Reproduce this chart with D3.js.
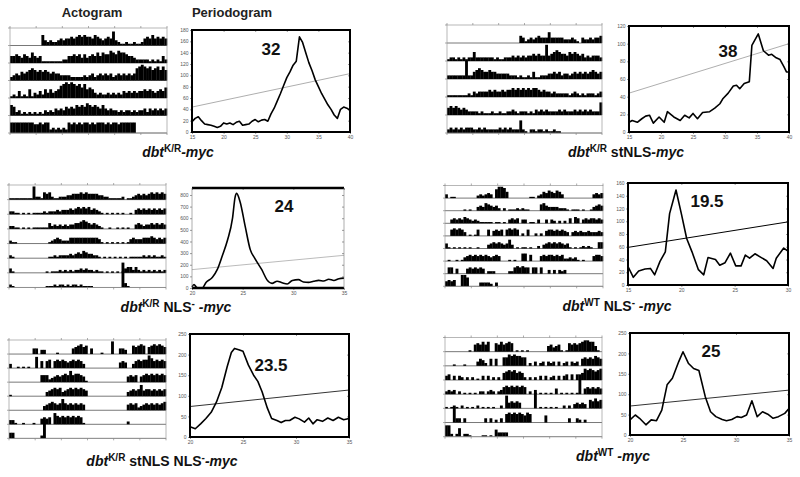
<!DOCTYPE html>
<html><head><meta charset="utf-8">
<script src="https://cdn.jsdelivr.net/npm/d3@7"></script>
<style>body{margin:0;background:#fff}svg{display:block}text{font-family:"Liberation Sans",Arial,sans-serif}</style>
</head><body>
<svg id="c" width="800" height="477"></svg>
<script>
// ---------- headers ----------
const headers = ["Actogram", "Periodogram"];

// ---------- actogram rows (activity level per bin, 0-9, letters = taller spikes) ----------
const acto1 = [
 "0000000000 0063232234 3445456565 5465434548 3211211211 2454645454",
 "4454354364 3411111111 2244545353 4546465576 5766544322 2221212142",
 "2343545676 5656545443 3332222232 3423434342 3434343478 9878678686",
 "1214121513 2425353457 8989878685 6532322323 2324343434 4545434546",
 "6523121212 1213232434 3545465657 6565464343 3232332323 3424343434",
 "6666666665 5656623232 3265656566 5656665656 6566666600 0000000000"];
const acto2 = [
 "0000000000 0000000000 0000000043 1232343336 3333322232 1032232334",
 "1221212122 5222222212 1122232323 2334343393 4565443545 4342323332",
 "2222222a22 4565445443 3333222121 1214112223 3434233234 3434345434",
 "1111111121 3233334343 3434454545 4545543433 2322222123 2121222123",
 "4545434322 2212111211 2112232122 2121323232 2223232223 2323232227",
 "2323232333 2232322222 3232322272 1022122121 1211000000 0000000000"];
const acto3 = [
 "1111111119 2215452112 2233444545 4444332211 1112011234 3434545454",
 "2211010101 1112122232 3334345454 5343210101 0101001034 3434343434",
 "2211010101 1111142323 2323344565 4343210010 0101010034 3233434343",
 "2110000000 0000012343 2224444444 4444310101 0101013433 3444543434",
 "2100000000 0000011212 2223234354 3322101010 1010101111 1212121121",
 "3100000000 0000101112 1212122323 2212110101 0101344242 1212121212",
 "2100000000 0000111212 2121221211 1100000000 000h310000 0000000000"];
const acto4 = [
 "3011000000 0023234307 9985000000 0011023546 5465300000 0000003434",
 "0000000101 0034365434 2020111212 1100005643 3332221011 1010013454",
 "0034343543 2321111101 1010343403 3011030030 3202020405 4034344343",
 "0056565301 0150005045 4505656502 0500202045 5454543034 3433433343",
 "4101010101 0010003454 5434730101 1010020345 4545434101 0121210055",
 "0100101345 4545454345 4000101006 6050004545 5454522323 1010004554",
 "0550400045 4545402220 0000225656 5505505003 0303230000 0000000000",
 "4545009970 0003333203 0000000000 0000000000 0000000000 0000000000"];
const acto5 = [
 "0000000004 4033000010 0000456756 0400010009 0044300656 7605676765",
 "3001010100 8050560565 6545656530 0000000000 0045400356 5669756565",
 "0000000000 0055523454 5658566541 0000000000 0000045450 4565656565",
 "1000000000 0000345656 3456565654 0000000000 0000034545 8455454545",
 "0000000000 0003456545 8545454540 0000000000 0000045452 3454545456",
 "3310010001 0045450865 6565656510 0000000000 0000020000 0000000000",
 "4400000000 002d000000 0000000000 0000000000 0000000000 0000000000"];
const acto6 = [
 "0000000001 0565757006 5756760101 0100000004 5345101656 5678877410",
 "0001000100 0035420505 0066878776 6020302303 2303023032 3056565765",
 "3403032020 2010303020 2056767565 2020203030 2303034040 4058787678",
 "2323020101 0102202320 2356565656 5020101010 1040101010 1e04545454",
 "1010102010 1020101010 0209454540 0000d01010 1010020203 4343065756",
 "000c330300 0000030302 0306767676 5760000050 0000000300 3202000000",
 "8820260221 0000110105 3333000000 0000000000 0000000000 0000000000"];

// ---------- periodogram series ----------
const periods1 = [15,15.5,16,16.5,17,17.5,18,18.5,19,19.5,20,20.5,21,21.5,22,22.5,23,23.5,24,24.5,25,25.5,26,26.5,27,27.5,28,28.5,29,29.5,30,30.5,31,31.5,32,32.5,33,33.5,34,34.5,35,35.5,36,36.5,37,37.5,38,38.5,39,39.5,40];
const power1   = [18,24,27,20,14,13,12,10,8,10,16,14,16,13,17,19,12,13,14,19,22,18,21,22,19,32,42,55,68,82,96,106,118,125,168,158,140,122,108,92,80,68,58,48,40,30,24,40,44,42,38];
const periods2 = [15,15.5,16.3,17,17.6,18.2,18.8,19.7,20.5,21,22,23,23.7,24.4,25,25.7,26.5,27.6,28.4,29.2,29.7,30.5,31.3,31.8,32.3,33,33.8,34.2,35.2,36,36.8,37.3,38,38.6,39.2,39.6,40];
const power2   = [11,13,11,15,18,19,10,17,11,23,17,13,19,16,21,15,22,23,27,32,38,44,52,53,49,55,57,98,111,92,87,88,84,82,74,68,68];
const periods3 = [20,20.2,20.4,20.6,21,21.4,22,22.5,23,23.5,24,24.25,24.4,24.75,25.25,25.75,26.2,26.9,27.4,27.9,28.4,28.9,29.4,29.9,30.5,31,31.5,32,32.5,33,33.5,34,34.5,35];
const power3   = [10,30,10,0,0,50,90,160,280,410,600,780,814,740,530,330,255,155,70,40,58,45,35,65,72,52,48,58,66,60,75,65,80,85];
const periods4 = [15,15.5,16,16.6,17.1,17.5,18,18.5,18.9,19.5,20,20.5,21,21.6,22.1,22.5,23.2,23.6,24.1,24.6,25.1,25.6,26,26.4,26.9,27.5,28,28.6,28.9,29.6,30];
const power4   = [29,12,22,25,26,16,37,52,112,149,112,73,52,24,16,43,40,31,35,50,30,30,47,42,49,43,38,26,42,58,53];
const periods5 = [20,20.5,21,21.5,22,22.5,23,23.5,23.9,24.2,24.6,25,25.5,26,26.4,26.8,27.3,27.7,28.2,28.6,29,29.4,29.9,30.3,30.8,31.2,31.6,32,32.5,33,33.5,34,34.5,35];
const power5   = [25,20,32,45,60,85,120,170,205,215,212,208,175,150,135,110,70,45,40,35,40,40,48,44,36,46,32,42,38,46,40,48,42,45];
const periods6 = [20,20.5,20.9,21.5,22,22.5,23,23.5,24,24.6,25,25.5,26,26.5,27.1,27.6,28.1,28.7,29.1,29.6,30.1,30.5,31,31.5,32,32.5,33,33.5,34,34.6,35];
const power6   = [37,49,41,25,37,35,61,123,139,180,204,176,163,158,94,57,45,38,35,38,45,43,49,84,45,57,51,41,45,53,65];

// significance (trend) line end values
const trend1 = [44,103], trend2 = [44,100], trend3 = [158,281], trend4 = [59,99], trend5 = [74,114], trend6 = [71,110];

// axis domains & ticks
const xDom1 = [15,40], yDom1 = [0,180], xTicks1 = [15,20,25,30,35,40], yTicks1 = d3.range(0,181,20);
const xDom2 = [15,40], yDom2 = [0,120], xTicks2 = [15,20,25,30,35,40], yTicks2 = d3.range(0,121,20);
const xDom3 = [20,35], yDom3 = [0,860], xTicks3 = [20,25,30,35], yTicks3 = d3.range(0,801,100);
const xDom4 = [15,30], yDom4 = [0,160], xTicks4 = [15,20,25,30], yTicks4 = d3.range(0,161,20);
const xDom5 = [20,35], yDom5 = [0,250], xTicks5 = [20,25,30,35], yTicks5 = d3.range(0,251,50);
const xDom6 = [20,35], yDom6 = [0,250], xTicks6 = [20,25,30,35], yTicks6 = d3.range(0,251,50);

// peak period labels
const peakLabels = ["32","38","24","19.5","23.5","25"];

// captions: [text, style]  style: bi = bold italic, b = bold, sup = superscript bold
const captions = [
 [["dbt","bi"],["K/R","sup"],["-myc","bi"]],
 [["dbt","bi"],["K/R","sup"],[" stNLS","b"],["-myc","bi"]],
 [["dbt","bi"],["K/R","sup"],[" NLS","b"],["-","sup"],[" -myc","bi"]],
 [["dbt","bi"],["WT","sup"],[" NLS","b"],["-","sup"],[" -myc","bi"]],
 [["dbt","bi"],["K/R","sup"],[" stNLS NLS","b"],["-","sup"],["-myc","bi"]],
 [["dbt","bi"],["WT","sup"],[" -myc","bi"]]
];

// ---------- layout (pixels) ----------
const actoBoxes = [
 {l:10, r:167, t:28, rowH:17.5},
 {l:447, r:602, t:25, rowH:18},
 {l:9, r:166, t:185, rowH:14.64},
 {l:445, r:603, t:185.5, rowH:12.6},
 {l:9, r:166, t:340, rowH:14.05},
 {l:445, r:602, t:337.5, rowH:14.17}
];
const perBoxes = [
 {l:192, r:350, t:30, b:132, trendCol:"#999", trendW:0.8, sides:true, lab:[271,55]},
 {l:629, r:789, t:26, b:132, trendCol:"#999", trendW:0.8, sides:true, lab:[728,57]},
 {l:192, r:344, t:188, b:288, trendCol:"#aaa", trendW:0.8, sides:false, lab:[284,212]},
 {l:628, r:788, t:183, b:285, trendCol:"#000", trendW:1, sides:true, lab:[707,207]},
 {l:190, r:349, t:334, b:437, trendCol:"#000", trendW:0.8, sides:true, lab:[271,371]},
 {l:630, r:789, t:333, b:435, trendCol:"#000", trendW:0.8, sides:true, lab:[711,357]}
];
const capPos = [[178,157],[626,157],[176,312],[617,311],[162,466],[613,461]];

const svg = d3.select("#c");
svg.append("rect").attr("width",800).attr("height",477).attr("fill","#fff");

// headers
svg.append("text").attr("x",92).attr("y",17).attr("text-anchor","middle")
  .attr("font-size",13).attr("font-weight","bold").attr("fill","#222").text(headers[0]);
svg.append("text").attr("x",232).attr("y",17).attr("text-anchor","middle")
  .attr("font-size",13).attr("font-weight","bold").attr("fill","#222").text(headers[1]);

function actogram(box, rows) {
  const g = svg.append("g");
  const n = rows.length;
  const bottom = box.t + n * box.rowH;
  const h = d3.scaleLinear().domain([0,10]).range([0, box.rowH]);
  rows.forEach((raw, i) => {
    const vals = raw.replace(/ /g,"").split("").map(c => parseInt(c,36));
    const x = d3.scaleLinear().domain([0, vals.length]).range([box.l, box.r]);
    const base = box.t + (i+1) * box.rowH;
    g.append("line").attr("x1",box.l).attr("x2",box.r).attr("y1",base).attr("y2",base)
      .attr("stroke","#555").attr("stroke-width",0.8);
    g.selectAll(null).data(vals.map((v,j)=>({v,j})).filter(d=>d.v>0)).enter().append("rect")
      .attr("x", d => x(d.j)).attr("width", x(1)-x(0)+0.25)
      .attr("y", d => base - h(d.v)).attr("height", d => h(d.v)).attr("fill","#000");
  });
  g.append("rect").attr("x",box.l).attr("y",box.t).attr("width",box.r-box.l).attr("height",bottom-box.t)
    .attr("fill","none").attr("stroke","#999").attr("stroke-width",0.7);
  const tx = d3.scaleLinear().domain([0,6]).range([box.l, box.r]);
  d3.range(0,7).forEach(k => {
    g.append("line").attr("x1",tx(k)).attr("x2",tx(k)).attr("y1",box.t).attr("y2",box.t-2).attr("stroke","#888").attr("stroke-width",0.7);
    g.append("line").attr("x1",tx(k)).attr("x2",tx(k)).attr("y1",bottom).attr("y2",bottom+2).attr("stroke","#888").attr("stroke-width",0.7);
  });
  d3.range(0,n+1).forEach(k => {
    const yy = box.t + k*box.rowH;
    g.append("line").attr("x1",box.l-2).attr("x2",box.l).attr("y1",yy).attr("y2",yy).attr("stroke","#888").attr("stroke-width",0.7);
  });
}

function periodogram(box, xDom, yDom, xTicks, yTicks, periods, power, trend, label, curve) {
  const g = svg.append("g");
  const x = d3.scaleLinear().domain(xDom).range([box.l, box.r]);
  const y = d3.scaleLinear().domain(yDom).range([box.b, box.t]);
  const styleAxis = sel => {
    sel.select(".domain").remove();
    sel.selectAll("line").attr("stroke","#555").attr("stroke-width",0.6);
    sel.selectAll("text").attr("font-size",5).attr("fill","#555").attr("font-family","Liberation Sans, Arial, sans-serif");
  };
  g.append("g").attr("transform",`translate(0,${box.b})`)
    .call(d3.axisBottom(x).tickValues(xTicks).tickSize(2).tickPadding(1.5).tickFormat(d3.format("d"))).call(styleAxis);
  g.append("g").attr("transform",`translate(${box.l},0)`)
    .call(d3.axisLeft(y).tickValues(yTicks).tickSize(2).tickPadding(1.5).tickFormat(d3.format("d"))).call(styleAxis);
  g.append("g").attr("transform",`translate(${box.r},0)`)
    .call(d3.axisLeft(y).tickValues(yTicks).tickSize(2).tickFormat("")).call(styleAxis);
  g.append("g").attr("transform",`translate(0,${box.t})`)
    .call(d3.axisBottom(x).tickValues(xTicks).tickSize(2).tickFormat("")).call(styleAxis);
  // trend
  g.append("line").attr("x1",x(xDom[0])).attr("y1",y(trend[0])).attr("x2",x(xDom[1])).attr("y2",y(trend[1]))
    .attr("stroke",box.trendCol).attr("stroke-width",box.trendW);
  // curve
  const line = d3.line().x((d,i)=>x(periods[i])).y(d=>y(d)).curve(curve || d3.curveLinear);
  g.append("path").datum(power).attr("d",line).attr("fill","none").attr("stroke","#000")
    .attr("stroke-width",1.6).attr("stroke-linejoin","round");
  // frame
  if (box.sides) {
    g.append("rect").attr("x",box.l).attr("y",box.t).attr("width",box.r-box.l).attr("height",box.b-box.t)
      .attr("fill","none").attr("stroke","#000").attr("stroke-width",2);
  } else {
    [box.t, box.b].forEach(yy => g.append("line").attr("x1",box.l).attr("x2",box.r).attr("y1",yy).attr("y2",yy)
      .attr("stroke","#000").attr("stroke-width",2.6));
    [box.l, box.r].forEach(xx => g.append("line").attr("x1",xx).attr("x2",xx).attr("y1",box.t).attr("y2",box.b)
      .attr("stroke","#777").attr("stroke-width",0.6));
  }
  g.append("text").attr("x",box.lab[0]).attr("y",box.lab[1]).attr("text-anchor","middle")
    .attr("font-size",17).attr("font-weight","bold").attr("fill","#111").text(label);
}

function caption(pos, segs) {
  const t = svg.append("text").attr("x",pos[0]).attr("y",pos[1]).attr("text-anchor","middle")
    .attr("font-size",14).attr("font-weight","bold").attr("fill","#111");
  let shifted = false;
  segs.forEach(([txt, st]) => {
    const sp = t.append("tspan").text(txt);
    if (st === "sup") {
      sp.attr("font-size",10).attr("dy", shifted ? 0 : -5);
      shifted = true;
    } else {
      sp.attr("font-size",14).attr("dy", shifted ? 5 : 0);
      shifted = false;
      if (st === "bi") sp.attr("font-style","italic");
    }
  });
}

const actos = [acto1, acto2, acto3, acto4, acto5, acto6];
actos.forEach((a,i) => actogram(actoBoxes[i], a));

periodogram(perBoxes[0], xDom1, yDom1, xTicks1, yTicks1, periods1, power1, trend1, peakLabels[0]);
periodogram(perBoxes[1], xDom2, yDom2, xTicks2, yTicks2, periods2, power2, trend2, peakLabels[1]);
periodogram(perBoxes[2], xDom3, yDom3, xTicks3, yTicks3, periods3, power3, trend3, peakLabels[2], d3.curveMonotoneX);
periodogram(perBoxes[3], xDom4, yDom4, xTicks4, yTicks4, periods4, power4, trend4, peakLabels[3]);
periodogram(perBoxes[4], xDom5, yDom5, xTicks5, yTicks5, periods5, power5, trend5, peakLabels[4]);
periodogram(perBoxes[5], xDom6, yDom6, xTicks6, yTicks6, periods6, power6, trend6, peakLabels[5]);

captions.forEach((c,i) => caption(capPos[i], c));
</script>
</body></html>
